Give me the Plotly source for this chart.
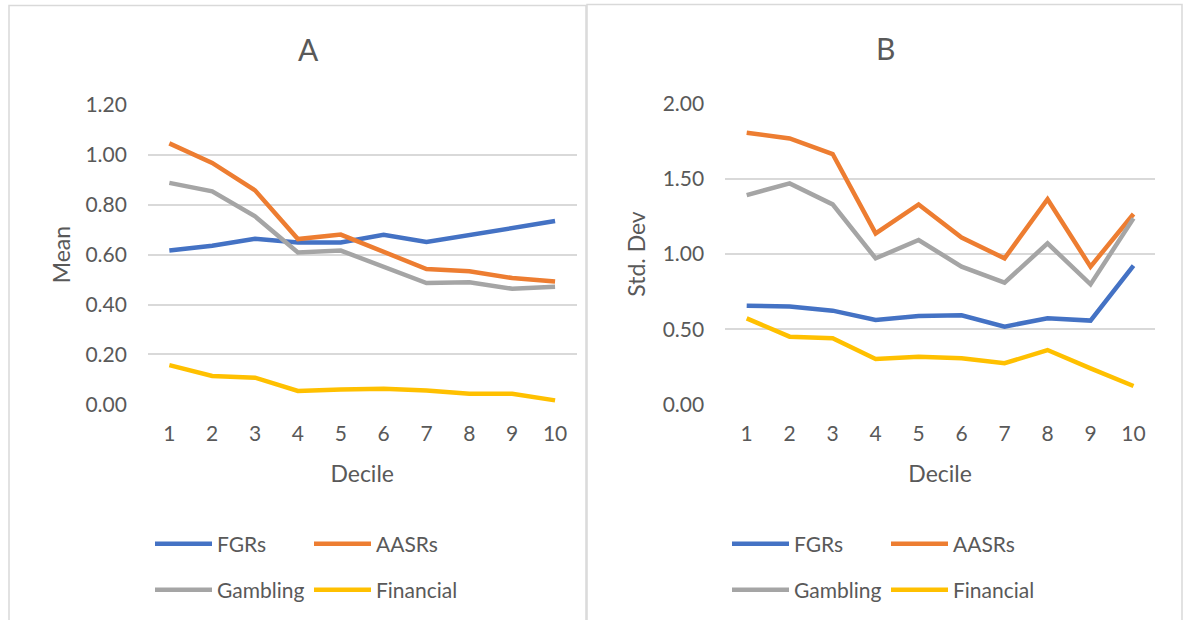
import plotly.graph_objects as go

deciles = [1, 2, 3, 4, 5, 6, 7, 8, 9, 10]
series_names = ["FGRs", "AASRs", "Gambling", "Financial"]

mean_fgrs = [0.616, 0.635, 0.663, 0.648, 0.648, 0.679, 0.650, 0.679, 0.704, 0.734]
mean_aasrs = [1.045, 0.967, 0.857, 0.662, 0.680, 0.609, 0.542, 0.533, 0.506, 0.492]
mean_gambling = [0.887, 0.853, 0.753, 0.608, 0.616, 0.549, 0.486, 0.489, 0.463, 0.471]
mean_financial = [0.157, 0.114, 0.107, 0.054, 0.060, 0.063, 0.056, 0.043, 0.043, 0.016]

sd_fgrs = [0.656, 0.650, 0.623, 0.561, 0.588, 0.592, 0.517, 0.572, 0.557, 0.922]
sd_aasrs = [1.807, 1.769, 1.665, 1.137, 1.330, 1.109, 0.971, 1.364, 0.916, 1.266]
sd_gambling = [1.392, 1.470, 1.330, 0.971, 1.093, 0.916, 0.809, 1.071, 0.798, 1.237]
sd_financial = [0.572, 0.450, 0.439, 0.302, 0.317, 0.306, 0.273, 0.361, 0.239, 0.122]

mean_ticks = [0.0, 0.2, 0.4, 0.6, 0.8, 1.0, 1.2]
sd_ticks = [0.0, 0.5, 1.0, 1.5, 2.0]

colors = ["#4472C4", "#ED7D31", "#A5A5A5", "#FFC000"]
FONT = "Lato"
TXT = "#595959"
W, H = 1189, 620

fig = go.Figure()

panelA = [mean_fgrs, mean_aasrs, mean_gambling, mean_financial]
panelB = [sd_fgrs, sd_aasrs, sd_gambling, sd_financial]
legA = ["legend", "legend", "legend2", "legend2"]
legB = ["legend3", "legend3", "legend4", "legend4"]

for i, (name, vals) in enumerate(zip(series_names, panelA)):
    fig.add_trace(go.Scatter(x=deciles, y=vals, name=name, mode="lines",
                             line=dict(color=colors[i], width=4.5),
                             xaxis="x", yaxis="y", legend=legA[i]))
for i, (name, vals) in enumerate(zip(series_names, panelB)):
    fig.add_trace(go.Scatter(x=deciles, y=vals, name=name, mode="lines",
                             line=dict(color=colors[i], width=4.5),
                             xaxis="x2", yaxis="y2", legend=legB[i]))

def px(x):
    return x / W

def py(y):
    return 1 - y / H

axis_common = dict(showline=False, zeroline=False, ticks="",
                   tickfont=dict(family=FONT, size=21, color=TXT))

fig.update_layout(
    xaxis=dict(domain=[px(147.9), px(576.5)], range=[0.5, 10.5], tickvals=deciles,
               showgrid=False, anchor="y", ticklabelstandoff=15,
               title=dict(text="Decile", font=dict(family=FONT, size=23, color=TXT), standoff=21),
               **axis_common),
    yaxis=dict(domain=[py(404.4), py(104.7)], range=[0, 1.2], tickvals=mean_ticks,
               tickformat=".2f", showgrid=True, gridcolor="#D9D9D9", gridwidth=1.5,
               anchor="x", ticklabelstandoff=20,
               title=dict(text="Mean", font=dict(family=FONT, size=23, color=TXT), standoff=8),
               **axis_common),
    xaxis2=dict(domain=[px(725.2), px(1155)], range=[0.5, 10.5], tickvals=deciles,
                showgrid=False, anchor="y2", ticklabelstandoff=15,
                title=dict(text="Decile", font=dict(family=FONT, size=23, color=TXT), standoff=21),
                **axis_common),
    yaxis2=dict(domain=[py(404.3), py(103.7)], range=[0, 2.0], tickvals=sd_ticks,
                tickformat=".2f", showgrid=True, gridcolor="#D9D9D9", gridwidth=1.5,
                anchor="x2", ticklabelstandoff=20,
                title=dict(text="Std. Dev", font=dict(family=FONT, size=23, color=TXT), standoff=10),
                **axis_common),
)

leg_common = dict(orientation="h", xanchor="left", yanchor="middle",
                  font=dict(family=FONT, size=21, color=TXT),
                  itemwidth=57, entrywidth=87, bgcolor="rgba(0,0,0,0)",
                  itemclick=False, itemdoubleclick=False, tracegroupgap=0)
fig.update_layout(
    legend=dict(x=px(150), y=py(544), **leg_common),
    legend2=dict(x=px(150), y=py(590), **leg_common),
    legend3=dict(x=px(727), y=py(544), **leg_common),
    legend4=dict(x=px(727), y=py(590), **leg_common),
)

fig.update_layout(
    annotations=[
        dict(text="A", x=px(308), y=py(49), xref="paper", yref="paper", showarrow=False,
             font=dict(family=FONT, size=30, color=TXT), xanchor="center", yanchor="middle"),
        dict(text="B", x=px(885), y=py(48), xref="paper", yref="paper", showarrow=False,
             font=dict(family=FONT, size=30, color=TXT), xanchor="center", yanchor="middle"),
    ],
    shapes=[
        dict(type="rect", xref="paper", yref="paper", x0=px(9), x1=px(586), y0=py(625), y1=py(5.5),
             line=dict(color="#D9D9D9", width=1.5), fillcolor="rgba(0,0,0,0)", layer="below"),
        dict(type="rect", xref="paper", yref="paper", x0=px(587), x1=px(1182), y0=py(625), y1=py(4.5),
             line=dict(color="#D9D9D9", width=1.5), fillcolor="rgba(0,0,0,0)", layer="below"),
    ],
    width=W, height=H, margin=dict(l=0, r=0, t=0, b=0, autoexpand=False),
    paper_bgcolor="white", plot_bgcolor="white", showlegend=True,
)

fig.write_html("out.html", config={"displayModeBar": False},
               post_script="document.body.style.margin='0';")
